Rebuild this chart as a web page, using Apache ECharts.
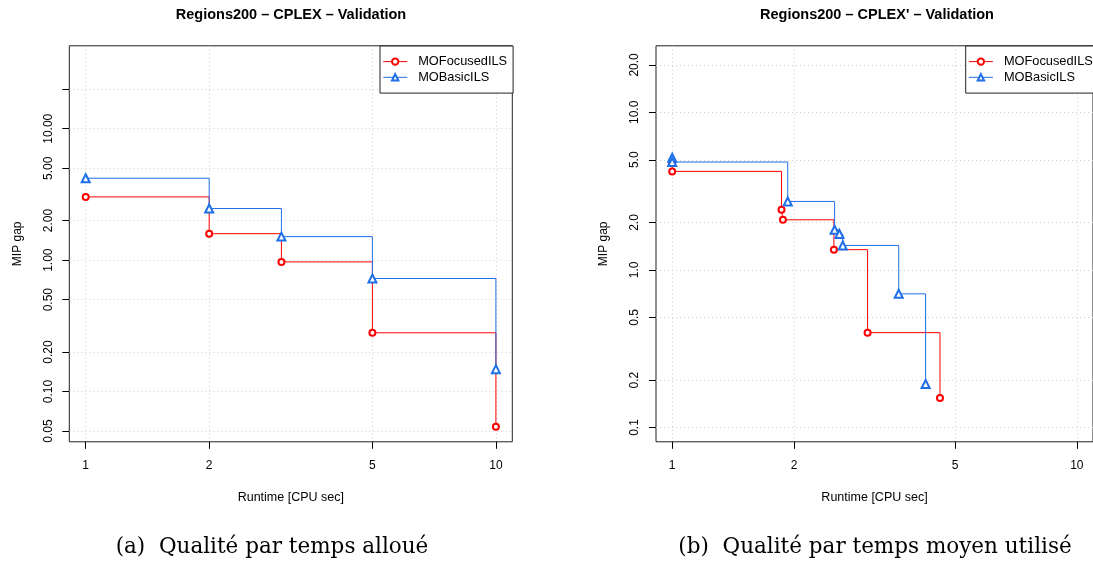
<!DOCTYPE html>
<html><head><meta charset="utf-8">
<script src="https://cdn.jsdelivr.net/npm/echarts@6/dist/echarts.min.js"></script>
<style>html,body{margin:0;padding:0;background:#fff}#c{width:1093px;height:562px}</style>
</head><body><div id="c"></div>
<script>
// ---- data ----
const seriesNames = ['MOFocusedILS', 'MOBasicILS'];
const leftRuntime = [1, 2, 3, 5, 10];
const leftFocusedGap = [3.03, 1.59, 0.97, 0.28, 0.054];
const leftBasicGap = [4.2, 2.47, 1.51, 0.725, 0.148];
const rightFocusedRuntime = [1, 1, 1.863, 1.878, 2.51, 3.04, 4.59];
const rightFocusedGap = [4.8, 4.22, 2.41, 2.08, 1.345, 0.40, 0.154];
const rightBasicRuntime = [1, 1, 1.93, 2.52, 2.59, 2.64, 3.63, 4.23];
const rightBasicGap = [5.15, 4.84, 2.72, 1.80, 1.69, 1.43, 0.705, 0.189];
const xTicks = [1, 2, 5, 10];
const leftYTicks = [0.05, 0.1, 0.2, 0.5, 1, 2, 5, 10, 20];
const leftYLabels = [0.05, 0.1, 0.2, 0.5, 1, 2, 5, 10];
const rightYTicks = [0.1, 0.2, 0.5, 1, 2, 5, 10, 20];
const titles = ['Regions200 \u2013 CPLEX \u2013 Validation', "Regions200 \u2013 CPLEX' \u2013 Validation"];
const captions = ['(a)  Qualit\u00e9 par temps allou\u00e9', '(b)  Qualit\u00e9 par temps moyen utilis\u00e9'];
const xName = 'Runtime [CPU sec]';
const yName = 'MIP gap';

// ---- styling ----
const FONT = 'Liberation Sans, Arial, sans-serif';
const RED = '#ff0000';
const BLUE = '#1f6fe8';
const GRIDC = '#cfcfcf';

function zip(a, b) { return a.map((v, i) => [v, b[i]]); }

function xAxisCfg(gi) {
  return {
    type: 'log', logBase: 10, gridIndex: gi,
    min: Math.pow(10, -0.04), max: Math.pow(10, 1.04),
    name: xName, nameLocation: 'middle', nameGap: 49,
    nameTextStyle: { fontFamily: FONT, fontSize: 12.5, color: '#000' },
    axisLine: { show: false },
    axisTick: { show: true, length: 7, inside: false, customValues: xTicks, lineStyle: { color: '#000', width: 1 } },
    axisLabel: { customValues: xTicks, margin: 18, fontFamily: FONT, fontSize: 12, color: '#000',
      formatter: v => String(Math.round(v)) },
    splitLine: { show: true, lineStyle: { color: GRIDC, width: 1, type: [1, 3] } }
  };
}
function yAxisCfg(gi, lo, hi, ticks, labels, dec) {
  return {
    type: 'log', logBase: 10, gridIndex: gi,
    min: Math.pow(10, lo), max: Math.pow(10, hi),
    name: yName, nameLocation: 'middle', nameGap: 46, nameRotate: 90,
    nameTextStyle: { fontFamily: FONT, fontSize: 12, color: '#000' },
    axisLine: { show: false },
    axisTick: { show: true, length: 7, inside: false, customValues: ticks, lineStyle: { color: '#000', width: 1 } },
    axisLabel: { customValues: labels, rotate: 90, margin: 15, fontFamily: FONT, fontSize: 12, color: '#000',
      formatter: v => Number(v).toFixed(dec) },
    splitLine: { show: true, lineStyle: { color: GRIDC, width: 1, type: [1, 3] } }
  };
}
function lineSeries(name, gi, data, color, symbol, size) {
  return {
    type: 'line', name: name, xAxisIndex: gi, yAxisIndex: gi, step: 'end', data: data,
    symbol: symbol, symbolSize: size, showAllSymbol: true, clip: false,
    lineStyle: { color: color, width: 1 },
    itemStyle: { color: color, borderColor: color, borderWidth: 1 },
    emphasis: { disabled: true }, animation: false
  };
}
function legendCfg(left) {
  return {
    orient: 'vertical', left: left, top: 46,
    data: seriesNames,
    itemWidth: 24, itemHeight: 8, itemGap: 2.5,
    padding: [9, 6, 9.2, 2.7],
    borderColor: '#222', borderWidth: 1, borderRadius: 0, backgroundColor: '#fff',
    lineStyle: { width: 1 },
    itemStyle: { borderWidth: 1 },
    textStyle: { fontFamily: FONT, fontSize: 12.8, color: '#000', lineHeight: 13.2, padding: [0, 0, 0, 6] },
    selectedMode: false
  };
}
function txt(x, y, text, font) {
  return { type: 'text', x: x, y: y, silent: true,
    style: { text: text, font: font, fill: '#000', textAlign: 'center', textVerticalAlign: 'middle' } };
}

const chart = echarts.init(document.getElementById('c'), null, { renderer: 'canvas' });
chart.setOption({
  backgroundColor: '#fff',
  animation: false,
  grid: [
    { left: 69.3, top: 45.8, width: 443, height: 396, show: true, borderColor: '#222', borderWidth: 1, backgroundColor: 'transparent' },
    { left: 656, top: 45.8, width: 442.4, height: 396, show: true, borderColor: '#222', borderWidth: 1, backgroundColor: 'transparent' }
  ],
  xAxis: [xAxisCfg(0), xAxisCfg(1)],
  yAxis: [
    yAxisCfg(0, -1.3825, 1.6312, leftYTicks, leftYLabels, 2),
    yAxisCfg(1, -1.0907, 1.4223, rightYTicks, rightYTicks, 1)
  ],
  legend: [legendCfg(380), legendCfg(965.7)],
  series: [
    lineSeries(seriesNames[0], 0, zip(leftRuntime, leftFocusedGap), RED, 'emptyCircle', 6),
    lineSeries(seriesNames[1], 0, zip(leftRuntime, leftBasicGap), BLUE, 'emptyTriangle', 8),
    lineSeries(seriesNames[0], 1, zip(rightFocusedRuntime, rightFocusedGap), RED, 'emptyCircle', 6),
    lineSeries(seriesNames[1], 1, zip(rightBasicRuntime, rightBasicGap), BLUE, 'emptyTriangle', 8)
  ],
  graphic: [
    txt(291, 15, titles[0], 'bold 14.5px ' + FONT),
    txt(877, 15, titles[1], 'bold 14.5px ' + FONT),
    txt(272, 547, captions[0], '21.5px DejaVu Serif, serif'),
    txt(875, 547, captions[1], '21.5px DejaVu Serif, serif')
  ]
});
</script>
</body></html>
